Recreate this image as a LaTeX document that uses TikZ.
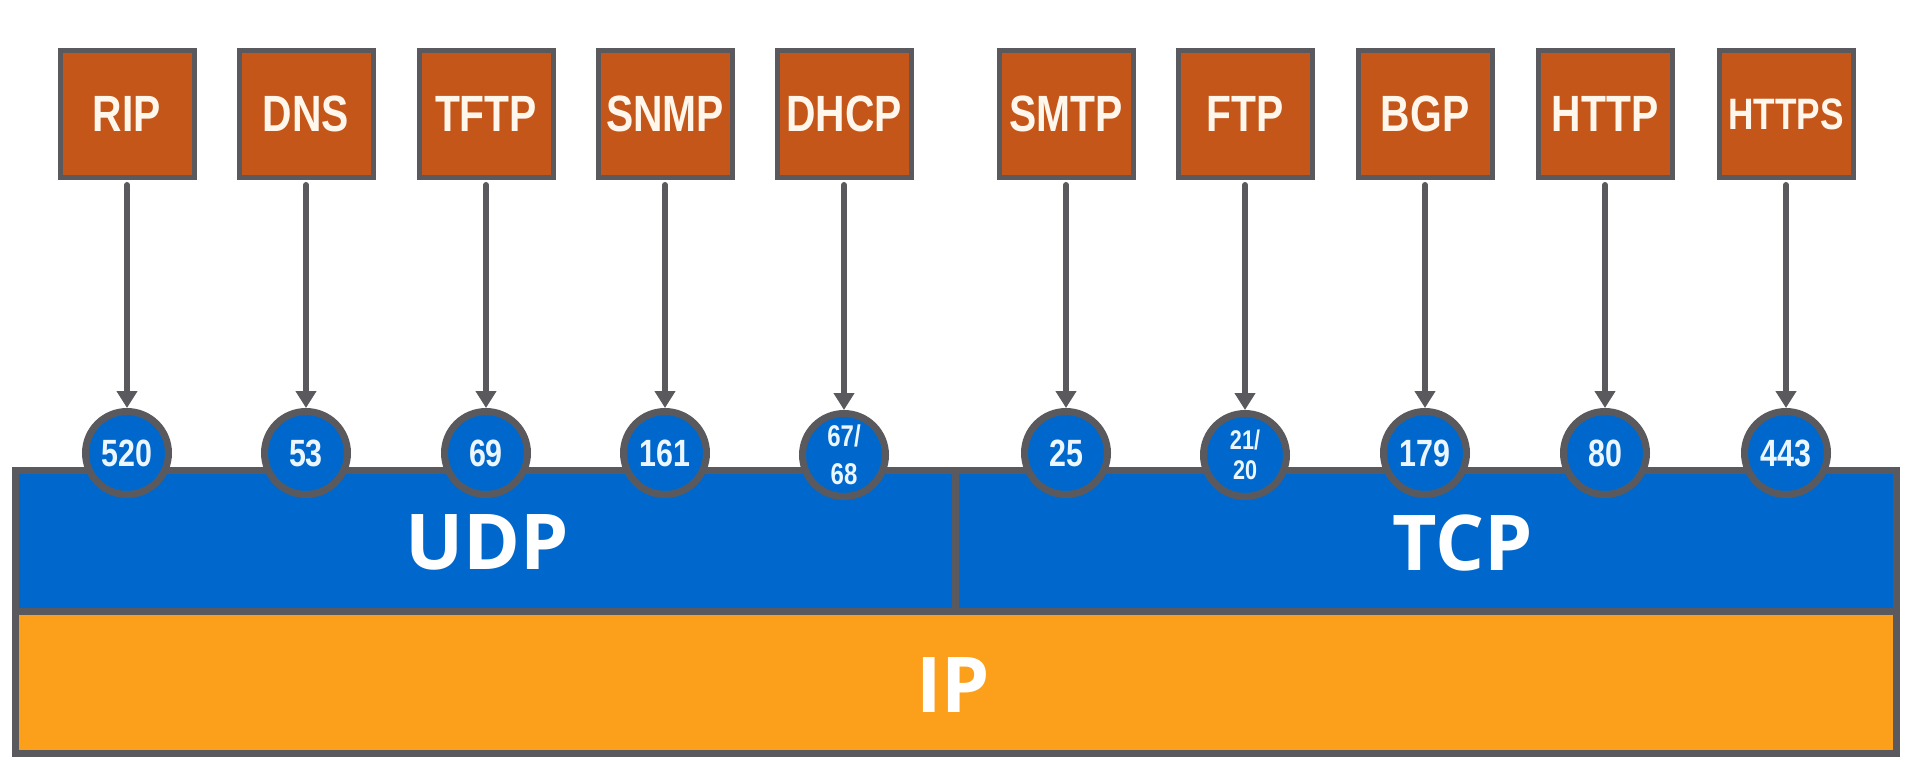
\documentclass[tikz,border=0pt]{standalone}
\usepackage{fontspec}
\usetikzlibrary{arrows.meta}
\newfontfamily\protofont{Liberation Sans}[FakeStretch=0.8]
\newfontfamily\layerfont{Open Sans}
\definecolor{protofill}{RGB}{196,86,26}
\definecolor{edgegray}{RGB}{90,90,94}
\definecolor{layerblue}{RGB}{0,104,204}
\definecolor{iporange}{RGB}{252,159,26}
\definecolor{protext}{RGB}{255,246,236}
\definecolor{portext}{RGB}{236,246,255}
\begin{document}
\begin{tikzpicture}[x=1pt,y=-1pt,
  proto/.style={draw=edgegray, line width=5pt, fill=protofill, minimum width=134pt, minimum height=127pt, inner sep=0pt, text=protext, font=\protofont\bfseries\fontsize{51}{51}\selectfont},
  port/.style={circle, draw=edgegray, line width=7pt, fill=layerblue, minimum size=83pt, inner sep=0pt, text=portext, font=\protofont\bfseries\fontsize{38}{38}\selectfont},
  conn/.style={draw=edgegray, line width=6pt, line cap=round, -{Triangle[width=20pt,length=17pt]}, shorten <=5pt},
  layer/.style={draw=edgegray, line width=7pt},
  layertext/.style={text=white, font=\layerfont\bfseries\fontsize{77}{77}\selectfont, inner sep=0pt}
]
\useasboundingbox[fill=white] (0,0) rectangle (1915,781);

% layers
\draw[layer, fill=layerblue] (15.5,470.5) rectangle (955,611.5);
\draw[layer, fill=layerblue] (955,470.5) rectangle (1896.5,611.5);
\draw[layer, fill=iporange] (15.5,611.5) rectangle (1896.5,753.5);
\node[layertext] (udp) at (487,542.5) {UDP};
\node[layertext] (tcp) at (1463,542.5) {TCP};
\node[layertext] (ip) at (953,685) {IP};

% ports
\node[port] (p520) at (127,453) {520};
\node[port] (p53) at (306,453) {53};
\node[port] (p69) at (486,453) {69};
\node[port] (p161) at (665,453) {161};
\node[port, align=center, font=\protofont\bfseries\fontsize{30}{38}\selectfont] (p67) at (844,455) {67/\\68};
\node[port] (p25) at (1066,453) {25};
\node[port, align=center, font=\protofont\bfseries\fontsize{27}{30}\selectfont] (p21) at (1245,455) {21/\\20};
\node[port] (p179) at (1425,453) {179};
\node[port] (p80) at (1605,453) {80};
\node[port] (p443) at (1786,453) {443};

% protocols
\node[proto] (rip) at (127,114) {RIP};
\node[proto] (dns) at (306,114) {DNS};
\node[proto] (tftp) at (486,114) {TFTP};
\node[proto] (snmp) at (665,114) {SNMP};
\node[proto] (dhcp) at (844,114) {DHCP};
\node[proto] (smtp) at (1066,114) {SMTP};
\node[proto] (ftp) at (1245,114) {FTP};
\node[proto] (bgp) at (1425,114) {BGP};
\node[proto] (http) at (1605,114) {HTTP};
\node[proto, font=\protofont\bfseries\fontsize{44}{44}\selectfont] (https) at (1786,114) {HTTPS};

% connectors
\draw[conn] (rip) -- (p520);
\draw[conn] (dns) -- (p53);
\draw[conn] (tftp) -- (p69);
\draw[conn] (snmp) -- (p161);
\draw[conn] (dhcp.south) -- (p67.north);
\draw[conn] (smtp) -- (p25);
\draw[conn] (ftp) -- (p21.north);
\draw[conn] (bgp) -- (p179);
\draw[conn] (http) -- (p80);
\draw[conn] (https) -- (p443);
\end{tikzpicture}
\end{document}
